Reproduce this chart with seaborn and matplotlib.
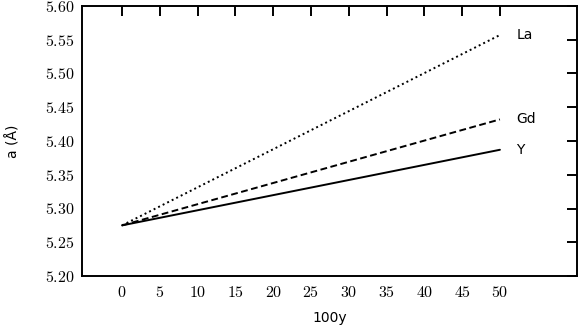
import matplotlib
matplotlib.use("Agg")
import matplotlib.pyplot as plt
import seaborn as sns
import pandas as pd
from matplotlib.ticker import FuncFormatter, MultipleLocator

# Data
x_vals = [0, 50]
la_vals = [5.275, 5.557]
gd_vals = [5.275, 5.432]
y_vals = [5.275, 5.387]
series_names = ["La", "Gd", "Y"]
x_ticks = [0, 5, 10, 15, 20, 25, 30, 35, 40, 45, 50]
y_ticks = [5.20, 5.25, 5.30, 5.35, 5.40, 5.45, 5.50, 5.55, 5.60]

df = pd.DataFrame({
    "x": x_vals * 3,
    "a": la_vals + gd_vals + y_vals,
    "series": [s for s in series_names for _ in x_vals],
})

sns.set_theme(style="white")
plt.rcParams["font.family"] = ["DejaVu Sans"]
plt.rcParams["mathtext.fontset"] = "cm"

fig = plt.figure(figsize=(5.79, 3.27), dpi=100)
ax = fig.add_axes([82 / 579, 51 / 327, 495 / 579, 270 / 327])

dashes = {"La": (1, 1.6), "Gd": (3.5, 1.8), "Y": ""}
sns.lineplot(data=df, x="x", y="a", style="series", dashes=dashes,
             color="black", linewidth=1.4, legend=False, ax=ax)

ax.set_xlim(-5.3, 60.2)
ax.set_ylim(5.20, 5.60)
ax.set_xticks(x_ticks)
ax.set_yticks(y_ticks)
ax.xaxis.set_major_formatter(FuncFormatter(lambda v, p: f"${v:.0f}$"))
ax.yaxis.set_major_formatter(FuncFormatter(lambda v, p: f"${v:.2f}$"))
ax.tick_params(axis="both", which="major", direction="in", length=7.2, width=1.4,
               top=True, right=True, labelsize=11.5, color="black", labelcolor="black")
ax.tick_params(axis="y", pad=5.5)
ax.tick_params(axis="x", pad=6.5)
for s in ax.spines.values():
    s.set_visible(True)
    s.set_color("black")
    s.set_linewidth(1.4)

ends = {"La": la_vals[-1], "Gd": gd_vals[-1], "Y": y_vals[-1]}
for name in series_names:
    ax.text(52.2, ends[name], name, fontsize=10, va="center", ha="left", color="black")

ax.set_xlabel("100y", fontsize=10, color="black", labelpad=8)
ax.set_ylabel("a (Å)", fontsize=10, color="black", labelpad=10)
ax.yaxis.set_label_coords(-0.125, 0.5)

fig.savefig("out.png", dpi=100)
